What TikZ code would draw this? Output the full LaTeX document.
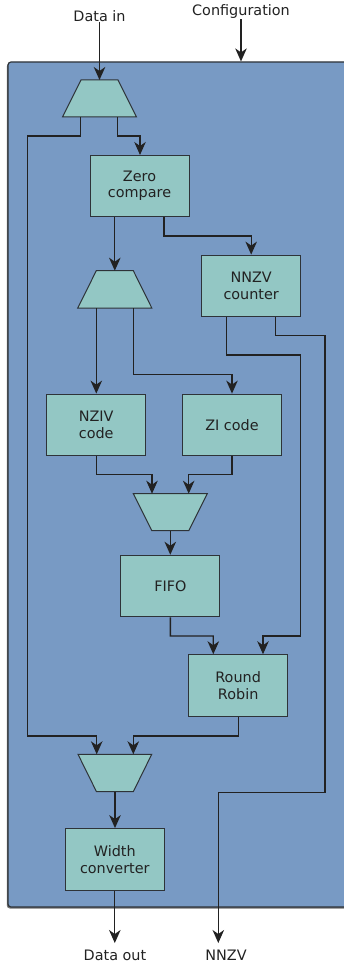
\documentclass[tikz,border=0pt]{standalone}
\usepackage{fontspec}
\newfontfamily\dvsans{DejaVu Sans}
\usetikzlibrary{arrows.meta,calc}
\definecolor{bgblue}{HTML}{789AC4}
\definecolor{tealbox}{HTML}{93C7C4}
\definecolor{boxline}{HTML}{2E3338}
\definecolor{wirecol}{HTML}{222222}
\definecolor{txtcol}{HTML}{222222}
\newcommand\diafont{\dvsans\fontsize{14.4}{16.7}\selectfont}
\tikzset{
  blk/.style={draw=boxline, fill=tealbox, line width=1pt, minimum width=99pt,
    minimum height=61.5pt, inner sep=0pt, align=center, text=txtcol, font=\diafont},
  lbl/.style={inner sep=0pt, text=txtcol, font=\diafont},
  arr/.style={draw=wirecol, line width=1.3pt, -{Stealth[length=13pt,width=11.5pt,inset=4pt]}},
  muxshape/.style={draw=boxline, fill=tealbox, line width=1pt, line join=miter},
  framebox/.style={draw=boxline, fill=bgblue, line width=1.2pt, rounded corners=3pt,
    minimum width=352pt, minimum height=845pt, inner sep=0pt},
}
\begin{document}
\begin{tikzpicture}[x=1pt,y=-1pt]
\useasboundingbox (0,0) rectangle (343,965);
\fill[white] (0,0) rectangle (343,965);
% frame with slight shadow
\fill[black!55, rounded corners=3pt] (6.8,63.5) rectangle (358,908.5);
\node[framebox] (frame) at (184,484.5) {};
% labels
\node[lbl] (din) at (99.5,16) {Data in};
\node[lbl] (cfg) at (241,12) {Configuration};
\node[lbl] (dout) at (115,955) {Data out};
\node[lbl] (nnzvlbl) at (226,955) {NNZV};
\coordinate (nnzvend) at (218.3,943);
% muxes
\draw[muxshape] (81,80) -- (118,80) -- (136.5,117) -- (62.5,117) -- cycle;
\coordinate (m1n) at (99.5,80);
\coordinate (m1sl) at (80.7,117);
\coordinate (m1sr) at (117.7,117);
\draw[muxshape] (96.3,270.7) -- (133.3,270.7) -- (151.8,308) -- (77.8,308) -- cycle;
\coordinate (m2n) at (114.8,270.7);
\coordinate (m2sl) at (96.3,308);
\coordinate (m2sr) at (133.3,308);
\draw[muxshape] (133.3,493.7) -- (207.3,493.7) -- (188.8,530.7) -- (151.8,530.7) -- cycle;
\coordinate (m3nl) at (152,493.7);
\coordinate (m3nr) at (188.7,493.7);
\coordinate (m3s) at (170.3,530.7);
\draw[muxshape] (78,754.3) -- (151.7,754.3) -- (133.3,791.7) -- (96.5,791.7) -- cycle;
\coordinate (m4nl) at (96.7,754.3);
\coordinate (m4nr) at (133.3,754.3);
\coordinate (m4s) at (115,791.7);
% blocks
\node[blk] (zc) at (139.5,185.85) {Zero\\compare};
\node[blk] (nnzv) at (251.2,285.85) {NNZV\\counter};
\node[blk] (nziv) at (96.2,424.85) {NZIV\\code};
\node[blk] (zi) at (232,424.85) {ZI code};
\node[blk] (fifo) at (170.35,586) {FIFO};
\node[blk] (rr) at (238.15,685.5) {Round\\Robin};
\node[blk] (wc) at (114.8,859.35) {Width\\converter};
% connectors
\draw[arr] (din.south) -- (m1n);
\draw[arr] (cfg.south) -- (cfg.south |- frame.north);
\draw[arr] (m1sl) |- (27.7,136) -- (27.7,736) -| (m4nl);
\draw[arr] (m1sr) |- (140,136) -- (140,155);
\draw[arr] (zc.south -| m2n) -- (m2n);
\draw[arr] ([xshift=24.5pt]zc.south) |- (251.2,236) -- (nnzv.north);
\draw[arr] (m2sl) -- (m2sl |- nziv.north);
\draw[arr] (m2sr) |- (232,374.7) -- (zi.north);
\draw[arr] ([xshift=-24.5pt]nnzv.south) |- (300.7,355) -- (300.7,636) -| ([xshift=24.85pt]rr.north);
\draw[arr] ([xshift=24.5pt]nnzv.south) |- (325,335.3) -- (325,792.7) -| (nnzvend);
\draw[arr] (nziv.south) |- (152,474.7) -- (m3nl);
\draw[arr] (zi.south) |- (188.7,474.7) -- (m3nr);
\draw[arr] (m3s) -- (m3s |- fifo.north);
\draw[arr] (fifo.south) |- (213.3,636) -- ([xshift=-24.85pt]rr.north);
\draw[arr] (rr.south) |- (133.3,736) -- (m4nr);
\draw[arr] (m4s) -- (m4s |- wc.north);
\draw[arr] (wc.south) -- (wc.south |- nnzvend);
\end{tikzpicture}
\end{document}
